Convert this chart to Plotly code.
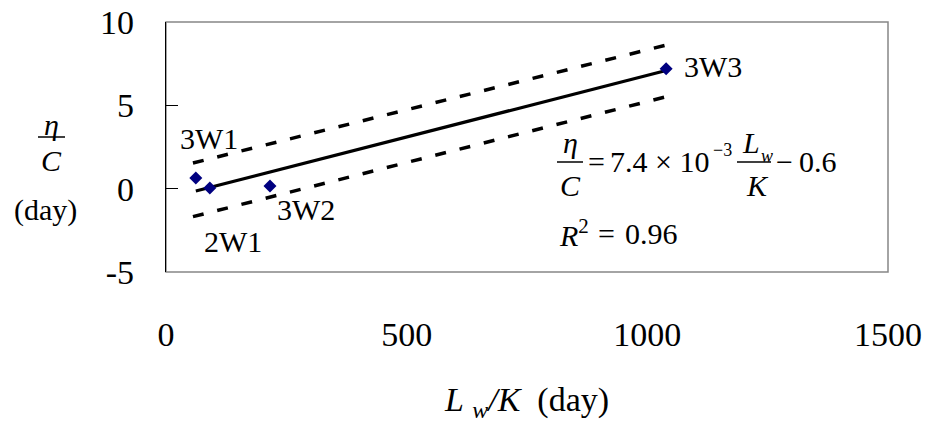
import plotly.graph_objects as go

# ---------------- data ----------------
well_names = ["3W1", "2W1", "3W2", "3W3"]
lw_over_k = [62, 91, 216, 1039]          # L_w/K (day)
eta_over_c = [0.64, 0.04, 0.16, 7.2]     # eta/C (day)

fit_slope = 7.4e-3
fit_intercept = -0.6
fit_x = [62, 1039]
fit_y = [fit_slope * v + fit_intercept for v in fit_x]

band_x = [56, 1040]
band_upper = [1.54, 8.62]
band_lower = [-1.68, 5.52]

x_ticks = [0, 500, 1000, 1500]
y_ticks = [-5, 0, 5, 10]

# label offsets (pixels) relative to each point
label_dx = [13, 23, 36, 47]
label_dy = [40, -53, -23, 2]

# ---------------- geometry ----------------
W, H = 931, 432
L, R, T, B = 166, 43, 22, 160
PW, PH = W - L - R, H - T - B

def px(x):
    return (x - L) / PW

def py(y):
    return (H - B - y) / PH

FONT = "Liberation Serif, Times New Roman, serif"
NB = "\u00a0"

fig = go.Figure()

fig.add_trace(go.Scatter(x=band_x, y=band_upper, mode="lines",
                         line=dict(color="black", width=3.5, dash="11px,14px"),
                         hoverinfo="skip", showlegend=False))
fig.add_trace(go.Scatter(x=band_x, y=band_lower, mode="lines",
                         line=dict(color="black", width=3.5, dash="11px,14px"),
                         hoverinfo="skip", showlegend=False))
fig.add_trace(go.Scatter(x=fit_x, y=fit_y, mode="lines",
                         line=dict(color="black", width=3.2),
                         hoverinfo="skip", showlegend=False))
fig.add_trace(go.Scatter(x=lw_over_k, y=eta_over_c, mode="markers",
                         marker=dict(symbol="diamond", size=10, color="#000080",
                                     line=dict(width=0)),
                         showlegend=False))

annotations = []
for name, xv, yv, dx, dy in zip(well_names, lw_over_k, eta_over_c, label_dx, label_dy):
    annotations.append(dict(x=xv, y=yv, xref="x", yref="y", text=name, showarrow=False,
                            xshift=dx, yshift=dy, xanchor="center", yanchor="middle",
                            font=dict(family=FONT, size=30, color="black")))

def txt(x, y, text, size=30, xanchor="center"):
    annotations.append(dict(x=px(x), y=py(y), xref="paper", yref="paper", text=text,
                            showarrow=False, xanchor=xanchor, yanchor="middle",
                            font=dict(family=FONT, size=size, color="black")))

shapes = [
    dict(type="rect", xref="paper", yref="paper", x0=0, x1=1, y0=0, y1=1,
         line=dict(color="#868686", width=1.5), layer="below"),
]

def hline(x0, x1, y):
    shapes.append(dict(type="line", xref="paper", yref="paper",
                       x0=px(x0), x1=px(x1), y0=py(y), y1=py(y),
                       line=dict(color="black", width=1.5)))

# y axis title as a stacked fraction
txt(51, 124, "<i>η</i>")
hline(38, 65, 137)
txt(51, 160, "<i>C</i>")
txt(45, 210, "(day)")

# regression equation
txt(570, 142, "<i>η</i>")
hline(557, 583, 162)
txt(570, 185, "<i>C</i>")
txt(596, 161, "=")
txt(608, 161, "7.4" + NB + "×" + NB + "10", xanchor="left")
txt(711, 150, "−3", size=18, xanchor="left")
txt(751, 142, "<i>L</i>")
txt(767, 156, "<i>w</i>", size=18)
hline(737, 771, 162)
txt(757, 185, "<i>K</i>")
txt(784, 161, "−")
txt(797, 161, "0.6", xanchor="left")

# R^2
txt(557, 233, "<i>R</i><sup>2</sup>", xanchor="left")
txt(606, 233, "=")
txt(623, 233, "0.96", xanchor="left")

x_title = "<i>L</i>" + NB + "<sub><i>w</i></sub><i>/K</i>" + NB * 2 + "(day)"

fig.update_layout(
    width=W, height=H,
    margin=dict(l=L, r=R, t=T, b=B, pad=0, autoexpand=False),
    paper_bgcolor="white", plot_bgcolor="white",
    font=dict(family=FONT, size=32, color="black"),
    annotations=annotations, shapes=shapes,
    xaxis=dict(range=[0, 1500], tickvals=x_ticks, ticktext=[str(v) for v in x_ticks],
               showgrid=False, zeroline=False, showline=False, ticks="",
               automargin=False, ticklabelstandoff=39,
               tickfont=dict(family=FONT, size=34, color="black"),
               title=dict(text=x_title,
                          font=dict(family=FONT, size=34, color="black"), standoff=35)),
    yaxis=dict(range=[-5, 10], tickvals=y_ticks, ticktext=[str(v) for v in y_ticks],
               showgrid=False, zeroline=False, showline=True, linecolor="black",
               linewidth=1.2, ticks="inside", ticklen=12, tickcolor="black",
               tickwidth=1.2, ticklabelstandoff=24, automargin=False,
               tickfont=dict(family=FONT, size=34, color="black")),
)

fig.write_html("out.html", config={"displayModeBar": False},
               post_script="document.body.style.margin='0px';document.body.style.overflow='hidden';")
